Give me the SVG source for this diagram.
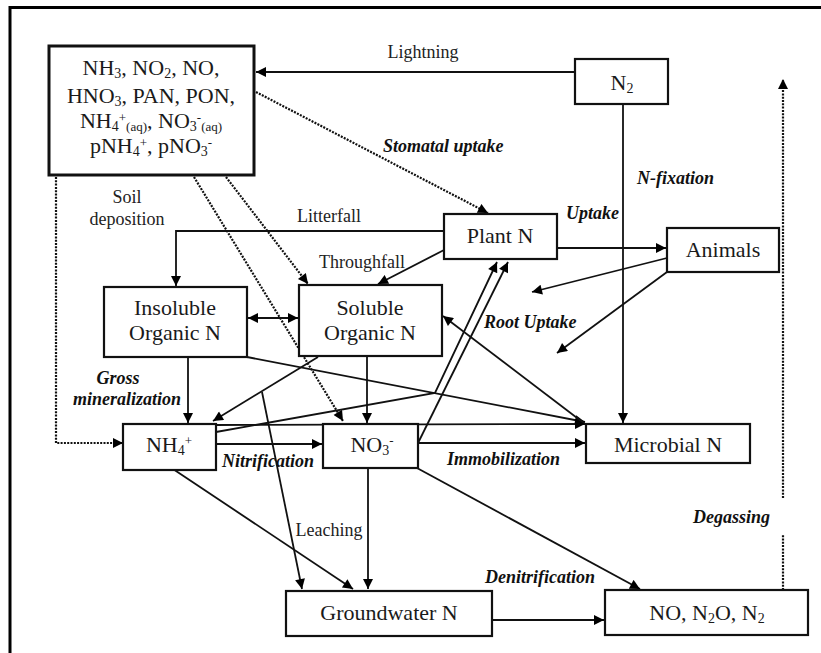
<svg xmlns="http://www.w3.org/2000/svg" width="821" height="653" viewBox="0 0 821 653">
<defs>
<style>
.frame{fill:none;stroke:#000;stroke-width:3}
.box{fill:#fff;stroke:#111;stroke-width:2.2}
.box2{fill:#fff;stroke:#111;stroke-width:3}
.nt{font-family:"Liberation Serif","Times New Roman",serif;font-size:22px;fill:#1a1a1a;text-anchor:middle}
.lb{font-family:"Liberation Serif","Times New Roman",serif;font-size:18px;fill:#222}
.bi{font-family:"Liberation Serif","Times New Roman",serif;font-size:18px;font-weight:bold;font-style:italic;fill:#111}
.c{fill:none;stroke:#111;stroke-width:1.8}
.d{fill:none;stroke:#111;stroke-width:2.2;stroke-dasharray:2 1.3}
.sub{font-size:14px}
.sm{font-size:13px}
</style>
<marker id="ah" viewBox="0 0 10 10" refX="10" refY="5" markerWidth="12" markerHeight="10" markerUnits="userSpaceOnUse" orient="auto-start-reverse">
<path d="M0,0 L10,5 L0,10 z" fill="#000"/>
</marker>
</defs>
<rect width="821" height="653" fill="#fff"/>
<path class="frame" d="M10,653 V7.5 H821"/>

<g id="connectors">
<line class="c" x1="575" y1="72" x2="256" y2="72" marker-end="url(#ah)"/>
<line class="d" x1="256" y1="92" x2="488" y2="213" marker-end="url(#ah)"/>
<polyline class="d" points="56,177 56,443 123,443" marker-end="url(#ah)"/>
<line class="d" x1="194" y1="177" x2="343" y2="421" marker-end="url(#ah)"/>
<line class="d" x1="226" y1="177" x2="308" y2="284" marker-end="url(#ah)"/>
<line class="c" x1="623" y1="104" x2="623" y2="423" marker-end="url(#ah)"/>
<line class="d" x1="783" y1="590" x2="783" y2="535"/>
<line class="d" x1="783" y1="498" x2="783" y2="79" marker-end="url(#ah)"/>
<polyline class="c" points="444,231 176,231 176,286" marker-end="url(#ah)"/>
<line class="c" x1="444" y1="250" x2="378" y2="284" marker-end="url(#ah)"/>
<line class="c" x1="248" y1="318" x2="298" y2="318" marker-start="url(#ah)" marker-end="url(#ah)"/>
<line class="c" x1="557" y1="248" x2="666" y2="248" marker-end="url(#ah)"/>
<line class="c" x1="667" y1="258" x2="532" y2="292" marker-end="url(#ah)"/>
<line class="c" x1="667" y1="272" x2="557" y2="353" marker-end="url(#ah)"/>
<line class="c" x1="188" y1="357" x2="188" y2="423" marker-end="url(#ah)"/>
<line class="c" x1="318" y1="357" x2="213" y2="421" marker-end="url(#ah)"/>
<line class="c" x1="262" y1="392" x2="302" y2="589" marker-end="url(#ah)"/>
<line class="c" x1="367" y1="356" x2="367" y2="423" marker-end="url(#ah)"/>
<line class="c" x1="247" y1="357" x2="585" y2="422" marker-end="url(#ah)"/>
<line class="c" x1="585" y1="424" x2="443" y2="316" marker-end="url(#ah)"/>
<line class="c" x1="216" y1="425" x2="585" y2="424" marker-end="url(#ah)"/>
<polyline class="c" points="216,432 435,393 497,262" marker-end="url(#ah)"/>
<line class="c" x1="418" y1="443" x2="508" y2="262" marker-end="url(#ah)"/>
<line class="c" x1="418" y1="443" x2="585" y2="443" marker-end="url(#ah)"/>
<line class="c" x1="216" y1="444" x2="322" y2="444" marker-end="url(#ah)"/>
<line class="c" x1="368" y1="468" x2="368" y2="589" marker-end="url(#ah)"/>
<line class="c" x1="170" y1="467" x2="353" y2="589" marker-end="url(#ah)"/>
<line class="c" x1="417" y1="468" x2="640" y2="589" marker-end="url(#ah)"/>
<line class="c" x1="492" y1="620" x2="604" y2="620" marker-end="url(#ah)"/>
</g>

<g id="labels">
<text class="lb" x="423" y="58" text-anchor="middle">Lightning</text>
<text class="bi" x="383" y="152">Stomatal uptake</text>
<text class="lb" x="127" y="203" text-anchor="middle">Soil</text>
<text class="lb" x="127" y="225" text-anchor="middle">deposition</text>
<text class="lb" x="329" y="222" text-anchor="middle">Litterfall</text>
<text class="lb" x="362" y="268" text-anchor="middle">Throughfall</text>
<text class="bi" x="566" y="219">Uptake</text>
<text class="bi" x="637" y="184">N-fixation</text>
<text class="bi" x="484" y="328">Root Uptake</text>
<text class="bi" x="118" y="384" text-anchor="middle">Gross</text>
<text class="bi" x="127" y="405" text-anchor="middle">mineralization</text>
<text class="bi" x="222" y="467">Nitrification</text>
<text class="bi" x="447" y="465">Immobilization</text>
<text class="lb" x="329" y="536" text-anchor="middle">Leaching</text>
<text class="bi" x="485" y="583">Denitrification</text>
<text class="bi" x="693" y="523">Degassing</text>
</g>

<g id="atmosphere">
<rect class="box2" x="49" y="46" width="205" height="129"/>
<text class="nt" x="151" y="75">NH<tspan class="sub" dy="3">3</tspan><tspan dy="-3">, NO</tspan><tspan class="sub" dy="3">2</tspan><tspan dy="-3">, NO,</tspan></text>
<text class="nt" x="151" y="103">HNO<tspan class="sub" dy="3">3</tspan><tspan dy="-3">, PAN, PON,</tspan></text>
<text class="nt" x="151" y="128">NH<tspan class="sub" dy="3">4</tspan><tspan class="sm" dy="-9">+</tspan><tspan class="sm" dy="9">(aq)</tspan><tspan dy="-3">, NO</tspan><tspan class="sub" dy="3">3</tspan><tspan class="sm" dy="-9">-</tspan><tspan class="sm" dy="9">(aq)</tspan></text>
<text class="nt" x="151" y="153">pNH<tspan class="sub" dy="3">4</tspan><tspan class="sm" dy="-9">+</tspan><tspan dy="6">, pNO</tspan><tspan class="sub" dy="3">3</tspan><tspan class="sm" dy="-9">-</tspan></text>
</g>

<g id="n2">
<rect class="box" x="575" y="59" width="93" height="45"/>
<text class="nt" x="622" y="90">N<tspan class="sub" dy="3">2</tspan></text>
</g>

<g id="plant">
<rect class="box" x="444" y="214" width="113" height="45"/>
<text class="nt" x="500" y="243">Plant N</text>
</g>

<g id="animals">
<rect class="box" x="667" y="228" width="112" height="44"/>
<text class="nt" x="723" y="257">Animals</text>
</g>

<g id="insoluble">
<rect class="box" x="104" y="287" width="143" height="70"/>
<text class="nt" x="175" y="315">Insoluble</text>
<text class="nt" x="175" y="340">Organic N</text>
</g>

<g id="soluble">
<rect class="box" x="299" y="285" width="143" height="71"/>
<text class="nt" x="370" y="315">Soluble</text>
<text class="nt" x="370" y="340">Organic N</text>
</g>

<g id="nh4">
<rect class="box" x="123" y="424" width="93" height="46"/>
<text class="nt" x="169" y="452">NH<tspan class="sub" dy="3">4</tspan><tspan class="sm" dy="-10">+</tspan></text>
</g>

<g id="no3">
<rect class="box" x="323" y="424" width="95" height="44"/>
<text class="nt" x="372" y="452">NO<tspan class="sub" dy="3">3</tspan><tspan class="sm" dy="-10">-</tspan></text>
</g>

<g id="microbial">
<rect class="box" x="586" y="424" width="164" height="39"/>
<text class="nt" x="668" y="452">Microbial N</text>
</g>

<g id="groundwater">
<rect class="box" x="286" y="591" width="206" height="45"/>
<text class="nt" x="389" y="620">Groundwater N</text>
</g>

<g id="gases">
<rect class="box" x="605" y="590" width="203" height="45"/>
<text class="nt" x="707" y="620">NO, N<tspan class="sub" dy="3">2</tspan><tspan dy="-3">O, N</tspan><tspan class="sub" dy="3">2</tspan></text>
</g>
</svg>
